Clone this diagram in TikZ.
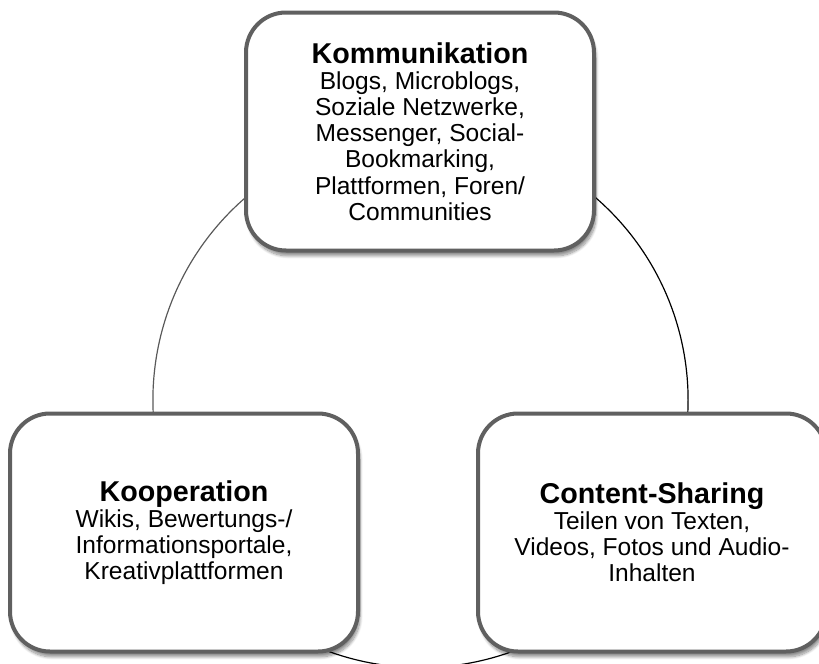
\documentclass[tikz,border=0pt]{standalone}
\usepackage{fontspec}
\setmainfont{Liberation Sans}
\usetikzlibrary{positioning, shadows.blur}

\definecolor{rahmen}{HTML}{606060}
\definecolor{bogen}{HTML}{595959}

\newcommand{\titel}[1]{{\fontsize{21.5}{22}\selectfont\bfseries #1}}

\begin{document}
\begin{tikzpicture}[x=0.75pt, y=-0.75pt,
  kasten/.style={draw=rahmen, line width=3pt, rounded corners=30pt, fill=white,
    minimum width=261pt, minimum height=178.5pt, align=center,
    font=\fontsize{18.4}{19.6}\selectfont,
    blur shadow={shadow xshift=1.5pt, shadow yshift=-4pt,
      shadow blur steps=10, shadow opacity=45}}]

\useasboundingbox (0,0) rectangle (819,664);

\coordinate (mitte) at (420.5,400);

% Kreis hinter den Kaesten
\draw[bogen, line width=0.9pt] (mitte) ++(100:200.7pt)
  arc[start angle=100, end angle=200, radius=200.7pt];
\draw[line width=0.9pt] (mitte) ++(80:200.7pt)
  arc[start angle=80, end angle=-20, radius=200.7pt];
\draw[line width=0.9pt] (mitte) ++(225:200.7pt)
  arc[start angle=225, end angle=315, radius=200.7pt];

\node[kasten] (komm) at (420,131.5) {\titel{Kommunikation}\\
  Blogs, Microblogs,\\ Soziale Netzwerke,\\ Messenger, Social-\\
  Bookmarking,\\ Plattformen, Foren/\\ Communities};
\node[kasten] (koop) at (184,532.5) {\titel{Kooperation}\\
  Wikis, Bewertungs-/\\ Informationsportale,\\ Kreativplattformen};
\node[kasten] (cont) at (652,532.5) {\titel{Content-Sharing}\\
  Teilen von Texten,\\ Videos, Fotos und Audio-\\ Inhalten};

\end{tikzpicture}
\end{document}
